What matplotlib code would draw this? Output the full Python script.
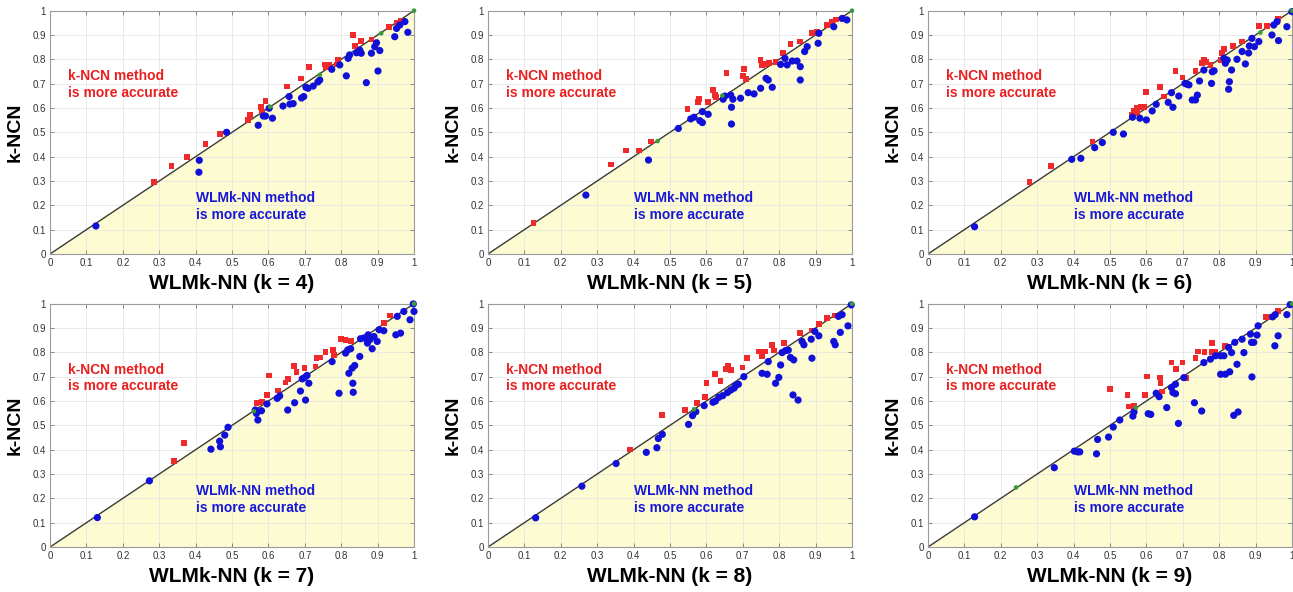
import matplotlib.pyplot as plt

plt.rcParams["font.family"] = ["Liberation Sans", "DejaVu Sans"]

# k values for the six panels
k_values = [4, 5, 6, 7, 8, 9]

# (WLMk-NN accuracy, k-NCN accuracy) per dataset, split by which method wins
red_k4 = [(0.286, 0.295), (0.334, 0.363), (0.377, 0.400), (0.427, 0.452), (0.466, 0.493),
          (0.549, 0.571), (0.544, 0.551), (0.579, 0.603), (0.592, 0.630), (0.583, 0.585),
          (0.652, 0.688), (0.689, 0.721), (0.711, 0.768), (0.755, 0.779), (0.759, 0.766),
          (0.768, 0.777), (0.791, 0.797), (0.789, 0.779), (0.837, 0.855), (0.833, 0.900),
          (0.855, 0.875), (0.883, 0.882), (0.931, 0.934), (0.952, 0.951), (0.965, 0.960)]
blue_k4 = [(0.126, 0.115), (0.410, 0.385), (0.409, 0.336), (0.485, 0.500), (0.572, 0.529),
           (0.586, 0.567), (0.592, 0.567), (0.611, 0.558), (0.602, 0.599), (0.640, 0.608),
           (0.657, 0.647), (0.659, 0.616), (0.668, 0.618), (0.691, 0.641), (0.697, 0.647),
           (0.703, 0.685), (0.709, 0.681), (0.723, 0.690), (0.736, 0.707), (0.741, 0.715),
           (0.774, 0.759), (0.796, 0.777), (0.814, 0.732), (0.819, 0.804), (0.823, 0.818),
           (0.842, 0.827), (0.851, 0.838), (0.855, 0.825), (0.869, 0.704), (0.883, 0.825),
           (0.892, 0.852), (0.897, 0.868), (0.901, 0.752), (0.906, 0.836), (0.947, 0.893),
           (0.952, 0.927), (0.961, 0.941), (0.975, 0.955), (0.983, 0.911)]
green_k4 = [(0.604, 0.605), (0.741, 0.736), (0.910, 0.907), (1.0, 1.0)]

red_k5 = [(0.125, 0.126), (0.338, 0.368), (0.379, 0.425), (0.414, 0.425), (0.447, 0.462),
          (0.548, 0.596), (0.580, 0.637), (0.578, 0.626), (0.605, 0.626), (0.618, 0.674),
          (0.624, 0.653), (0.627, 0.644), (0.655, 0.745), (0.700, 0.732), (0.704, 0.759),
          (0.708, 0.718), (0.749, 0.797), (0.753, 0.777), (0.762, 0.781), (0.772, 0.786),
          (0.790, 0.789), (0.811, 0.825), (0.831, 0.862), (0.858, 0.873), (0.890, 0.907),
          (0.904, 0.914), (0.932, 0.941), (0.945, 0.955), (0.956, 0.964)]
blue_k5 = [(0.269, 0.242), (0.441, 0.386), (0.523, 0.516), (0.557, 0.555), (0.566, 0.562),
           (0.582, 0.548), (0.589, 0.540), (0.589, 0.585), (0.605, 0.574), (0.646, 0.636),
           (0.651, 0.649), (0.667, 0.653), (0.669, 0.603), (0.669, 0.534), (0.673, 0.636),
           (0.694, 0.640), (0.715, 0.663), (0.731, 0.658), (0.749, 0.681), (0.764, 0.722),
           (0.770, 0.715), (0.781, 0.685), (0.804, 0.779), (0.816, 0.804), (0.822, 0.777),
           (0.836, 0.793), (0.849, 0.793), (0.858, 0.770), (0.858, 0.715), (0.870, 0.832),
           (0.877, 0.852), (0.907, 0.866), (0.909, 0.907), (0.950, 0.934), (0.973, 0.968),
           (0.986, 0.962)]
green_k5 = [(0.466, 0.464), (0.644, 0.651), (1.0, 1.0)]

red_k6 = [(0.279, 0.297), (0.338, 0.363), (0.452, 0.462), (0.560, 0.571), (0.566, 0.588),
          (0.575, 0.599), (0.584, 0.603), (0.594, 0.605), (0.575, 0.578), (0.598, 0.667),
          (0.637, 0.685), (0.648, 0.647), (0.680, 0.753), (0.699, 0.725), (0.735, 0.753),
          (0.753, 0.784), (0.758, 0.797), (0.763, 0.790), (0.776, 0.777), (0.804, 0.797),
          (0.808, 0.825), (0.813, 0.842), (0.837, 0.855), (0.863, 0.873), (0.909, 0.937),
          (0.932, 0.937), (0.962, 0.968)]
blue_k6 = [(0.128, 0.112), (0.395, 0.389), (0.420, 0.393), (0.458, 0.437), (0.479, 0.458),
           (0.509, 0.500), (0.537, 0.493), (0.562, 0.562), (0.582, 0.558), (0.600, 0.551),
           (0.616, 0.588), (0.627, 0.615), (0.660, 0.623), (0.673, 0.603), (0.669, 0.663),
           (0.689, 0.649), (0.706, 0.701), (0.712, 0.697), (0.717, 0.695), (0.726, 0.633),
           (0.735, 0.633), (0.740, 0.653), (0.746, 0.711), (0.758, 0.756), (0.781, 0.749),
           (0.786, 0.753), (0.779, 0.701), (0.813, 0.804), (0.817, 0.784), (0.822, 0.797),
           (0.826, 0.677), (0.828, 0.708), (0.834, 0.756), (0.849, 0.800), (0.863, 0.832),
           (0.872, 0.781), (0.881, 0.826), (0.883, 0.855), (0.890, 0.886), (0.897, 0.852),
           (0.909, 0.873), (0.945, 0.900), (0.950, 0.941), (0.959, 0.955), (0.963, 0.877),
           (0.986, 0.934), (1.0, 0.996)]
green_k6 = [(0.913, 0.910), (1.0, 1.0)]

red_k7 = [(0.341, 0.353), (0.369, 0.426), (0.567, 0.593), (0.583, 0.595), (0.596, 0.625),
          (0.601, 0.705), (0.627, 0.643), (0.647, 0.676), (0.654, 0.691), (0.670, 0.743),
          (0.677, 0.718), (0.699, 0.735), (0.729, 0.742), (0.732, 0.776), (0.741, 0.779),
          (0.757, 0.801), (0.778, 0.810), (0.780, 0.790), (0.800, 0.854), (0.812, 0.851),
          (0.821, 0.849), (0.826, 0.847), (0.917, 0.920), (0.934, 0.952)]
blue_k7 = [(0.130, 0.121), (0.273, 0.272), (0.442, 0.402), (0.466, 0.435), (0.468, 0.412),
           (0.480, 0.460), (0.489, 0.492), (0.564, 0.563), (0.567, 0.549), (0.571, 0.522),
           (0.581, 0.560), (0.596, 0.588), (0.624, 0.611), (0.631, 0.621), (0.653, 0.563),
           (0.672, 0.593), (0.688, 0.641), (0.693, 0.691), (0.699, 0.696), (0.702, 0.604),
           (0.706, 0.705), (0.711, 0.673), (0.775, 0.762), (0.794, 0.632), (0.812, 0.797),
           (0.818, 0.810), (0.826, 0.815), (0.821, 0.714), (0.830, 0.735), (0.832, 0.673),
           (0.833, 0.636), (0.837, 0.746), (0.851, 0.783), (0.853, 0.856), (0.862, 0.859),
           (0.872, 0.838), (0.874, 0.872), (0.879, 0.853), (0.885, 0.815), (0.890, 0.865),
           (0.899, 0.845), (0.904, 0.893), (0.917, 0.889), (0.950, 0.872), (0.954, 0.948),
           (0.963, 0.879), (0.972, 0.968), (0.989, 0.934), (0.998, 0.999), (1.0, 0.968)]
green_k7 = [(0.560, 0.558), (1.0, 1.0)]

red_k8 = [(0.390, 0.401), (0.479, 0.543), (0.542, 0.563), (0.574, 0.593), (0.596, 0.618),
          (0.600, 0.673), (0.624, 0.710), (0.639, 0.683), (0.653, 0.732), (0.660, 0.745),
          (0.667, 0.728), (0.699, 0.738), (0.712, 0.776), (0.744, 0.804), (0.753, 0.786),
          (0.762, 0.804), (0.781, 0.831), (0.785, 0.808), (0.813, 0.838), (0.858, 0.879),
          (0.890, 0.890), (0.909, 0.918), (0.932, 0.941), (0.954, 0.952)]
blue_k8 = [(0.131, 0.120), (0.258, 0.250), (0.352, 0.343), (0.435, 0.389), (0.464, 0.408),
           (0.468, 0.446), (0.479, 0.463), (0.551, 0.504), (0.562, 0.540), (0.571, 0.556),
           (0.594, 0.581), (0.618, 0.595), (0.625, 0.600), (0.634, 0.615), (0.645, 0.622),
           (0.658, 0.635), (0.667, 0.645), (0.676, 0.653), (0.680, 0.663), (0.688, 0.669),
           (0.703, 0.700), (0.753, 0.714), (0.767, 0.710), (0.770, 0.762), (0.790, 0.673),
           (0.799, 0.697), (0.804, 0.748), (0.808, 0.799), (0.817, 0.807), (0.825, 0.809),
           (0.831, 0.779), (0.840, 0.769), (0.838, 0.625), (0.852, 0.604), (0.863, 0.845),
           (0.868, 0.831), (0.888, 0.854), (0.890, 0.776), (0.898, 0.886), (0.909, 0.868),
           (0.950, 0.845), (0.954, 0.831), (0.963, 0.948), (0.973, 0.955), (0.968, 0.882),
           (0.989, 0.909), (0.998, 0.995)]
green_k8 = [(0.566, 0.566), (1.0, 1.0)]

red_k9 = [(0.500, 0.648), (0.548, 0.624), (0.553, 0.577), (0.566, 0.581), (0.566, 0.571),
          (0.596, 0.624), (0.601, 0.701), (0.637, 0.697), (0.639, 0.673), (0.642, 0.639),
          (0.669, 0.758), (0.682, 0.731), (0.699, 0.758), (0.708, 0.696), (0.735, 0.776),
          (0.742, 0.803), (0.760, 0.802), (0.781, 0.838), (0.780, 0.800), (0.789, 0.800),
          (0.817, 0.826), (0.929, 0.946), (0.934, 0.944), (0.962, 0.971)]
blue_k9 = [(0.128, 0.124), (0.347, 0.326), (0.402, 0.394), (0.411, 0.391), (0.417, 0.391),
           (0.463, 0.383), (0.466, 0.442), (0.496, 0.452), (0.509, 0.493), (0.527, 0.522),
           (0.563, 0.538), (0.566, 0.555), (0.605, 0.548), (0.612, 0.545), (0.627, 0.632),
           (0.635, 0.618), (0.656, 0.573), (0.669, 0.655), (0.673, 0.635), (0.680, 0.630),
           (0.680, 0.669), (0.688, 0.508), (0.703, 0.696), (0.732, 0.593), (0.752, 0.559),
           (0.758, 0.758), (0.776, 0.772), (0.790, 0.786), (0.804, 0.786), (0.813, 0.786),
           (0.804, 0.710), (0.817, 0.710), (0.829, 0.720), (0.826, 0.820), (0.834, 0.799),
           (0.843, 0.841), (0.840, 0.541), (0.852, 0.555), (0.849, 0.751), (0.863, 0.854),
           (0.868, 0.799), (0.886, 0.875), (0.889, 0.841), (0.895, 0.841), (0.890, 0.699),
           (0.904, 0.871), (0.907, 0.909), (0.947, 0.946), (0.954, 0.955), (0.953, 0.827),
           (0.962, 0.868), (0.986, 0.955), (0.995, 0.996)]
green_k9 = [(0.242, 0.245), (0.571, 0.573), (1.0, 1.0)]

red_sets = [red_k4, red_k5, red_k6, red_k7, red_k8, red_k9]
blue_sets = [blue_k4, blue_k5, blue_k6, blue_k7, blue_k8, blue_k9]
green_sets = [green_k4, green_k5, green_k6, green_k7, green_k8, green_k9]

ticks = [0, 0.1, 0.2, 0.3, 0.4, 0.5, 0.6, 0.7, 0.8, 0.9, 1]
tick_labels = ["0", "0.1", "0.2", "0.3", "0.4", "0.5", "0.6", "0.7", "0.8", "0.9", "1"]

fig = plt.figure(figsize=(12.93, 5.92), dpi=100)

lefts = [0.0387, 0.3774, 0.7177]
bottoms = [0.571, 0.076]
w, h = 0.2815, 0.411

for i, k in enumerate(k_values):
    ax = fig.add_axes([lefts[i % 3], bottoms[i // 3], w, h])

    # region where WLMk-NN wins
    ax.fill_between([0, 1], [0, 1], [0, 0], color="#fdfbd2", zorder=0.2, linewidth=0)
    ax.plot([0, 1], [0, 1], color="#3a3a30", linewidth=1.0, zorder=2)

    r = red_sets[i]
    b = blue_sets[i]
    g = green_sets[i]
    ax.scatter([p[0] for p in r], [p[1] for p in r], marker="s", s=17,
               color="#f02a2a", edgecolors="none", zorder=3, clip_on=False)
    ax.scatter([p[0] for p in b], [p[1] for p in b], marker="o", s=27,
               color="#1010d8", edgecolors="none", zorder=3, clip_on=False)
    ax.scatter([p[0] for p in g], [p[1] for p in g], marker="o", s=11,
               color="#3a9a3a", edgecolors="none", zorder=4, clip_on=False)

    ax.text(0.05, 0.695, "k-NCN method\nis more accurate", color="#e82020",
            fontsize=10, fontweight="bold", va="center", ha="left", linespacing=1.25)
    ax.text(0.40, 0.195, "WLMk-NN method\nis more accurate", color="#1818d8",
            fontsize=10, fontweight="bold", va="center", ha="left", linespacing=1.25)

    ax.set_xlim(0, 1)
    ax.set_ylim(0, 1)
    ax.set_xticks(ticks)
    ax.set_xticklabels(tick_labels)
    ax.set_yticks(ticks)
    ax.set_yticklabels(tick_labels)
    ax.tick_params(direction="in", length=3, width=0.6, top=True, right=True,
                   labelsize=7, colors="#777777", labelcolor="#333333", pad=3)
    ax.grid(True, color="#e6e6e6", linewidth=0.6)
    ax.set_axisbelow(True)
    for s in ax.spines.values():
        s.set_color("#9a9a9a")
        s.set_linewidth(0.8)

    ax.set_xlabel("WLMk-NN (k = %d)" % k, fontsize=15, fontweight="bold", labelpad=4)
    ax.set_ylabel("k-NCN", fontsize=14, fontweight="bold", labelpad=6)

fig.savefig("out.png", dpi=100)
